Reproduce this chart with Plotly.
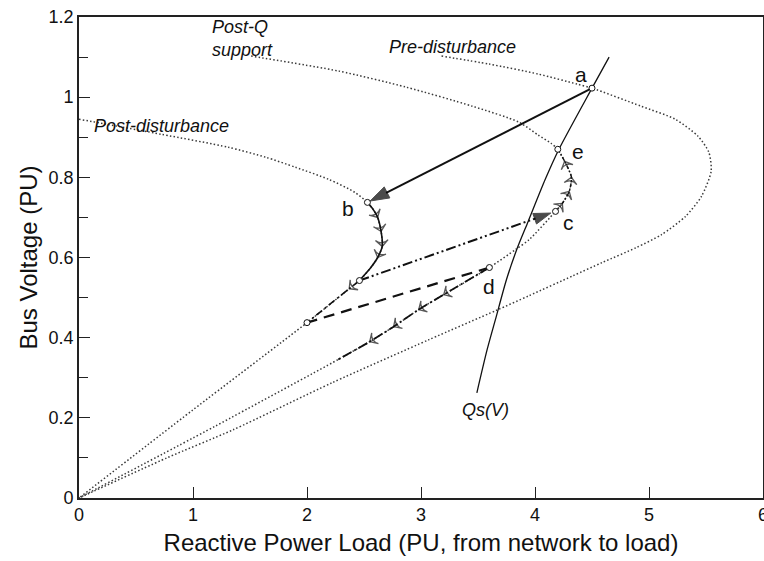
import plotly.graph_objects as go

# ---------------------------------------------------------------
# PV nose curves (Q in PU, V in PU)
# ---------------------------------------------------------------

PRE_Q = [3.18, 3.60, 4.03, 4.37, 4.50, 4.93, 5.23, 5.43, 5.525, 5.545, 5.46,
         5.32, 5.11, 4.89, 4.59, 4.33, 3.95, 3.66, 3.07, 2.22, 1.35, 0.77, 0.0]
PRE_V = [1.1025, 1.0825, 1.0575, 1.0325, 1.0225, 0.9775, 0.945, 0.9025,
         0.8625, 0.815, 0.7525, 0.7025, 0.657, 0.625, 0.5875, 0.554, 0.505,
         0.468, 0.395, 0.2875, 0.17, 0.1, 0.0]

SUP_Q = [1.51, 2.28, 2.87, 3.45, 3.86, 4.03, 4.14, 4.20, 4.26, 4.32, 4.30,
         4.24, 4.18, 3.95, 3.83, 3.60, 3.20, 2.98, 2.76, 2.55, 2.27, 1.20, 0.0]
SUP_V = [1.1025, 1.065, 1.025, 0.9775, 0.9375, 0.905, 0.885, 0.87, 0.84,
         0.80, 0.765, 0.735, 0.715, 0.645, 0.62, 0.575, 0.5075, 0.47, 0.4275,
         0.39, 0.345, 0.18, 0.0]

POST_Q = [0.0, 0.72, 1.31, 1.64, 1.90, 2.19, 2.42, 2.53, 2.58, 2.62, 2.65,
          2.66, 2.62, 2.56, 2.46, 2.37, 2.0, 1.0, 0.0]
POST_V = [0.945, 0.9075, 0.875, 0.85, 0.825, 0.795, 0.7625, 0.7375, 0.72,
          0.70, 0.665, 0.6275, 0.60, 0.575, 0.5425, 0.522, 0.4375, 0.22, 0.0]

QS_Q = [3.49, 3.58, 3.66, 3.75, 3.84, 3.94, 4.09, 4.21, 4.50, 4.65]
QS_V = [0.2625, 0.37, 0.4525, 0.545, 0.62, 0.69, 0.795, 0.87, 1.0225, 1.10]

# ---------------------------------------------------------------
# Operating points
# ---------------------------------------------------------------

POINT_NAMES = ["a", "b", "c", "d", "e", "", ""]
POINT_Q = [4.50, 2.53, 4.18, 3.60, 4.20, 2.46, 2.00]
POINT_V = [1.0225, 0.7375, 0.715, 0.575, 0.87, 0.5425, 0.4375]

LETTER_Q = [4.40, 2.36, 4.29, 3.60, 4.38]
LETTER_V = [1.0575, 0.7225, 0.6875, 0.5275, 0.865]

# trajectories along the curves (with small direction chevrons)
TRAJ_B_Q = [2.53, 2.58, 2.62, 2.65, 2.66, 2.62, 2.56, 2.46]
TRAJ_B_V = [0.7375, 0.72, 0.70, 0.665, 0.6275, 0.60, 0.575, 0.5425]
TRAJ_B_ARROWS = [2, 3, 4, 5]

TRAJ_P_Q = [2.46, 2.37, 2.0]
TRAJ_P_V = [0.5425, 0.522, 0.4375]
TRAJ_P_ARROWS = [1]

TRAJ_C_Q = [4.18, 4.24, 4.30, 4.32, 4.26, 4.20]
TRAJ_C_V = [0.715, 0.735, 0.765, 0.80, 0.84, 0.87]
TRAJ_C_ARROWS = [1, 2, 3, 4]

TRAJ_D_Q = [3.60, 3.20, 2.98, 2.76, 2.55, 2.27]
TRAJ_D_V = [0.575, 0.5075, 0.47, 0.4275, 0.39, 0.345]
TRAJ_D_ARROWS = [1, 2, 3, 4]

# curve captions
CAPTIONS = ["Post-Q<br>support", "Pre-disturbance", "Post-disturbance", "Qs(V)"]
CAPTION_Q = [1.15, 2.70, 0.11, 3.57]
CAPTION_V = [1.1475, 1.125, 0.9275, 0.22]
CAPTION_ANCHOR = ["left", "left", "left", "center"]

FONT = "Liberation Sans, Arial, Helvetica, sans-serif"
INK = "#111111"

fig = go.Figure()

# ---- dotted nose curves ----
for qs, vs in [(PRE_Q, PRE_V), (SUP_Q, SUP_V), (POST_Q, POST_V)]:
    fig.add_trace(
        go.Scatter(
            x=qs, y=vs, mode="lines",
            line=dict(color="#3a3a3a", width=1.5, dash="1.5px,2.2px",
                      shape="spline", smoothing=0.7),
            hoverinfo="skip",
        )
    )

# ---- Qs(V) ----
fig.add_trace(
    go.Scatter(
        x=QS_Q, y=QS_V, mode="lines",
        line=dict(color=INK, width=1.3, shape="spline", smoothing=0.7),
        hoverinfo="skip",
    )
)


def add_traj(qs, vs, arrows, dash, width):
    sizes = [9 if i in arrows else 0 for i in range(len(qs))]
    fig.add_trace(
        go.Scatter(
            x=qs, y=vs, mode="lines+markers",
            line=dict(color=INK, width=width, dash=dash,
                      shape="spline", smoothing=0.7),
            marker=dict(symbol="arrow-wide-open", size=sizes,
                        angleref="previous", color=INK,
                        line=dict(color=INK, width=1.3)),
            hoverinfo="skip",
        )
    )


add_traj(TRAJ_B_Q, TRAJ_B_V, TRAJ_B_ARROWS, "solid", 1.6)
add_traj(TRAJ_P_Q, TRAJ_P_V, TRAJ_P_ARROWS, "8px,3px,2px,3px", 1.6)
add_traj(TRAJ_C_Q, TRAJ_C_V, TRAJ_C_ARROWS, "4px,2px,1.5px,2px", 1.4)
add_traj(TRAJ_D_Q, TRAJ_D_V, TRAJ_D_ARROWS, "10px,3px,2px,3px", 1.8)

# ---- jumps between curves ----
a, b, c, d, e, p1, p2 = range(7)

# a -> b, solid with filled head
fig.add_trace(
    go.Scatter(
        x=[POINT_Q[a], POINT_Q[b]], y=[POINT_V[a], POINT_V[b]],
        mode="lines+markers",
        line=dict(color=INK, width=2),
        marker=dict(symbol="arrow", size=[0, 20], angleref="previous",
                    standoff=3, color="black", line=dict(color="black", width=1)),
        hoverinfo="skip",
    )
)

# p1 -> c, dash-dot-dot with filled head
fig.add_trace(
    go.Scatter(
        x=[POINT_Q[p1], POINT_Q[c]], y=[POINT_V[p1], POINT_V[c]],
        mode="lines+markers",
        line=dict(color=INK, width=2, dash="10px,3px,2px,3px,2px,3px"),
        marker=dict(symbol="arrow", size=[0, 18], angleref="previous",
                    standoff=5, color="black", line=dict(color="black", width=1)),
        hoverinfo="skip",
    )
)

# d -> p2, long dashes
fig.add_trace(
    go.Scatter(
        x=[POINT_Q[d], POINT_Q[p2]], y=[POINT_V[d], POINT_V[p2]],
        mode="lines",
        line=dict(color=INK, width=2.2, dash="11px,7px"),
        hoverinfo="skip",
    )
)

# ---- operating point circles ----
fig.add_trace(
    go.Scatter(
        x=POINT_Q, y=POINT_V, mode="markers",
        marker=dict(symbol="circle", size=6, color="white",
                    line=dict(color=INK, width=1)),
        hoverinfo="skip",
    )
)

annotations = []
for name, q, v in zip(POINT_NAMES[:5], LETTER_Q, LETTER_V):
    annotations.append(dict(
        x=q, y=v, xref="x", yref="y", text=name, showarrow=False,
        font=dict(family=FONT, size=21, color=INK),
        xanchor="center", yanchor="middle",
    ))

for text, q, v, anchor in zip(CAPTIONS, CAPTION_Q, CAPTION_V, CAPTION_ANCHOR):
    annotations.append(dict(
        x=q, y=v, xref="x", yref="y", text=f"<i>{text}</i>", showarrow=False,
        font=dict(family=FONT, size=18, color=INK),
        xanchor=anchor, yanchor="middle", align="left",
    ))

fig.update_layout(
    width=764,
    height=561,
    margin=dict(l=79, r=1, t=17, b=63),
    paper_bgcolor="white",
    plot_bgcolor="white",
    showlegend=False,
    font=dict(family=FONT, size=18, color=INK),
    annotations=annotations,
)

fig.update_xaxes(
    range=[0, 6],
    dtick=1,
    automargin=False,
    ticklabeloverflow="allow",
    showgrid=False,
    zeroline=False,
    showline=True,
    linecolor="#222222",
    linewidth=1.6,
    mirror=True,
    ticks="inside",
    ticklen=11,
    tickwidth=1.2,
    tickcolor="#222222",
    tickfont=dict(size=18),
    title=dict(text="Reactive Power Load (PU, from network to load)",
               font=dict(size=24), standoff=10),
)

fig.update_yaxes(
    range=[0, 1.2],
    dtick=0.2,
    automargin=False,
    showgrid=False,
    zeroline=False,
    showline=True,
    linecolor="#222222",
    linewidth=1.6,
    mirror=True,
    ticks="inside",
    ticklen=11,
    tickwidth=1.2,
    tickcolor="#222222",
    tickfont=dict(size=18),
    minor=dict(dtick=0.1, ticks="inside", ticklen=9, tickcolor="#222222"),
    title=dict(text="Bus Voltage (PU)", font=dict(size=24), standoff=4),
)

# drop the browser's default page margin so the figure sits at (0, 0)
fig.write_html(
    "out.html",
    config={"displayModeBar": False},
    post_script="document.body.style.margin='0';"
                "document.body.style.overflow='hidden';",
)
